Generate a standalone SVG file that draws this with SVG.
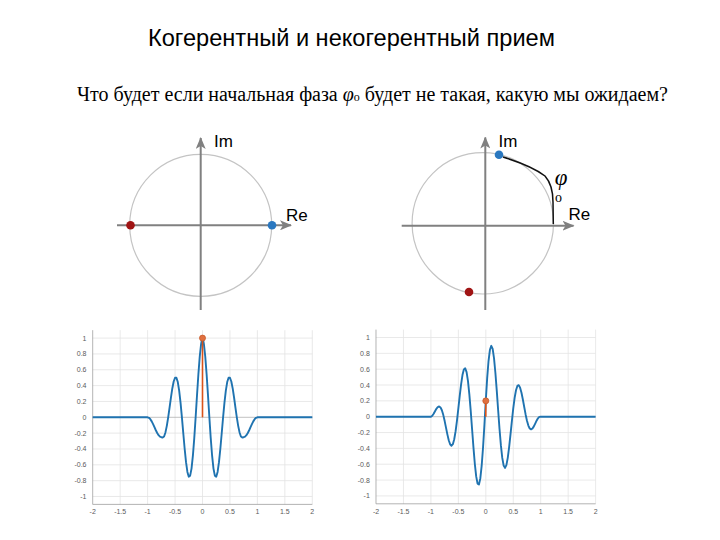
<svg xmlns="http://www.w3.org/2000/svg" xmlns:xlink="http://www.w3.org/1999/xlink" width="720" height="540" viewBox="0 0 720 540">
<style>
.title{font-family:"Liberation Sans",Arial,sans-serif;font-size:23.6px;fill:#000}
.sub{font-family:"Liberation Serif","Times New Roman",serif;font-size:20px;fill:#000}
.ax{stroke:#808080;stroke-width:2;fill:none}
.circ{stroke:#c4c4c4;stroke-width:1.2;fill:none}
.lbl{font-family:"Liberation Sans",Arial,sans-serif;font-size:17px;fill:#000}
.grid{stroke:#e3e3e3;stroke-width:0.8;fill:none}
.frame{stroke:#a0a0a0;stroke-width:0.8;fill:none}
.zero{stroke:#a8a8a8;stroke-width:0.7}
.tick{font-family:"Liberation Sans",Arial,sans-serif;font-size:7px;fill:#5a5a5a}
.wave{stroke:#1f73b0;stroke-width:1.9;fill:none;stroke-linejoin:round;vector-effect:non-scaling-stroke}
.stem{stroke:#d95319;stroke-width:1.6}
.mk{fill:#e07040;stroke:#c85a2a;stroke-width:0.8}
.red{fill:#a01414}
.blue{fill:#2a78c0}
</style>
<defs>
<marker id="arr" viewBox="0 0 12 10" refX="11" refY="5" markerWidth="12" markerHeight="10" markerUnits="userSpaceOnUse" orient="auto">
<path d="M0,0 L12,5 L0,10 L3,5 z" fill="#808080"/>
</marker>
<g id="axesFrame">
<path class="grid" d="M-82.35,-87.1V87.1M-54.9,-87.1V87.1M-27.45,-87.1V87.1M0,-87.1V87.1M27.45,-87.1V87.1M54.9,-87.1V87.1M82.35,-87.1V87.1M109.8,-87.1V87.1M-109.8,-79.2H109.8M-109.8,-63.36H109.8M-109.8,-47.52H109.8M-109.8,-31.68H109.8M-109.8,-15.84H109.8M-109.8,15.84H109.8M-109.8,31.68H109.8M-109.8,47.52H109.8M-109.8,63.36H109.8M-109.8,79.2H109.8"/>
<line class="zero" x1="-109.8" y1="0" x2="109.8" y2="0"/>
<path class="frame" d="M-109.8,-87.1V87.1H109.8"/>
<g class="tick" text-anchor="end">
<text x="-116" y="-76.7">1</text>
<text x="-116" y="-60.9">0.8</text>
<text x="-116" y="-45">0.6</text>
<text x="-116" y="-29.2">0.4</text>
<text x="-116" y="-13.3">0.2</text>
<text x="-116" y="2.5">0</text>
<text x="-116" y="18.3">-0.2</text>
<text x="-116" y="34.2">-0.4</text>
<text x="-116" y="50">-0.6</text>
<text x="-116" y="65.9">-0.8</text>
<text x="-116" y="81.7">-1</text>
</g>
<g class="tick" text-anchor="middle">
<text x="-109.8" y="97">-2</text>
<text x="-82.35" y="97">-1.5</text>
<text x="-54.9" y="97">-1</text>
<text x="-27.45" y="97">-0.5</text>
<text x="0" y="97">0</text>
<text x="27.45" y="97">0.5</text>
<text x="54.9" y="97">1</text>
<text x="82.35" y="97">1.5</text>
<text x="109.8" y="97">2</text>
</g>
</g>
</defs>
<rect width="720" height="540" fill="#fff"/>
<text class="title" x="148" y="46">Когерентный и некогерентный прием</text>
<text class="sub" x="77" y="101">Что будет если начальная фаза <tspan font-style="italic">φ</tspan><tspan font-size="12">o</tspan> будет не такая, какую мы ожидаем?</text>

<g id="phasor-left">
<circle class="circ" cx="200.7" cy="225.3" r="71"/>
<line class="ax" x1="117" y1="225.3" x2="291" y2="225.3" marker-end="url(#arr)"/>
<line class="ax" x1="200.7" y1="310" x2="200.7" y2="138" marker-end="url(#arr)"/>
<text class="lbl" x="214" y="147">Im</text>
<text class="lbl" x="286" y="221">Re</text>
<circle class="red" cx="130.5" cy="225.3" r="4.3"/>
<circle class="blue" cx="272" cy="225.3" r="4.3"/>
</g>

<g id="phasor-right">
<circle class="circ" cx="482.8" cy="223.3" r="70.7"/>
<line class="ax" x1="401.7" y1="225.7" x2="573.5" y2="225.7" marker-end="url(#arr)"/>
<line class="ax" x1="485.3" y1="310" x2="485.3" y2="137.5" marker-end="url(#arr)"/>
<text class="lbl" x="498.5" y="147">Im</text>
<text class="lbl" x="568.5" y="220">Re</text>
<path d="M503,157 Q532,166 545,176 Q553,185 553,202 L553.3,224" stroke="#111" stroke-width="1.5" fill="none"/>
<text x="561" y="185" font-family="Liberation Serif,Times New Roman,serif" font-style="italic" font-size="23" text-anchor="middle">φ</text>
<text x="558.5" y="202" font-family="Liberation Serif,Times New Roman,serif" font-size="14" text-anchor="middle">o</text>
<circle class="blue" cx="499" cy="154.7" r="4.3"/>
<circle class="red" cx="469" cy="292" r="4.3"/>
</g>

<g id="plot-left" transform="translate(202.5,417.3)">
<use xlink:href="#axesFrame" href="#axesFrame"/>
<path class="wave" transform="scale(54.9,-79.2)" d="M-2,0 L-1,0 -0.975,-0.0061 -0.95,-0.0239 -0.925,-0.0515 -0.9,-0.0864 -0.875,-0.125 -0.85,-0.1636 -0.825,-0.1985 -0.8,-0.2261 -0.775,-0.2439 -0.75,-0.252 -0.725,-0.255 -0.7,-0.2427 -0.675,-0.191 -0.65,-0.1082 -0.625,0 -0.6,0.1236 -0.575,0.2498 -0.55,0.3641 -0.525,0.4518 -0.5,0.5 -0.475,0.4993 -0.45,0.445 -0.425,0.338 -0.4,0.1854 -0.375,0 -0.35,-0.2009 -0.325,-0.3968 -0.3,-0.5663 -0.275,-0.6895 -0.25,-0.75 -0.225,-0.7371 -0.2,-0.6472 -0.175,-0.4849 -0.15,-0.2627 -0.125,0 -0.1,0.2781 -0.075,0.5437 -0.05,0.7686 -0.025,0.9273 -0.0125,0.9754 0,1 0.0125,0.9754 0.025,0.9273 0.05,0.7686 0.075,0.5437 0.1,0.2781 0.125,0 0.15,-0.2627 0.175,-0.4849 0.2,-0.6472 0.225,-0.7371 0.25,-0.75 0.275,-0.6895 0.3,-0.5663 0.325,-0.3968 0.35,-0.2009 0.375,0 0.4,0.1854 0.425,0.338 0.45,0.445 0.475,0.4993 0.5,0.5 0.525,0.4518 0.55,0.3641 0.575,0.2498 0.6,0.1236 0.625,0 0.65,-0.1082 0.675,-0.191 0.7,-0.2427 0.725,-0.255 0.75,-0.252 0.775,-0.2439 0.8,-0.2261 0.825,-0.1985 0.85,-0.1636 0.875,-0.125 0.9,-0.0864 0.925,-0.0515 0.95,-0.0239 0.975,-0.0061 1,0 2,0"/>
<line class="stem" x1="0" y1="0" x2="0" y2="-79.2"/>
<circle class="mk" cx="0" cy="-79.2" r="3"/>
</g>

<g id="plot-right" transform="translate(485.8,416.7)">
<use xlink:href="#axesFrame" href="#axesFrame"/>
<path class="wave" transform="scale(54.9,-79.2)" d="M-2,0 L-1,0 -0.975,0.0125 -0.95,0.0372 -0.925,0.0685 -0.9,0.0995 -0.875,0.1223 -0.85,0.1299 -0.825,0.1171 -0.8,0.0813 -0.775,0.0235 -0.75,-0.052 -0.725,-0.1375 -0.7,-0.2229 -0.675,-0.2969 -0.65,-0.3481 -0.625,-0.3668 -0.6,-0.3464 -0.575,-0.2844 -0.55,-0.183 -0.525,-0.0496 -0.5,0.104 -0.475,0.2625 -0.45,0.4087 -0.425,0.5253 -0.4,0.5967 -0.375,0.6113 -0.35,0.5629 -0.325,0.4516 -0.3,0.2847 -0.275,0.0758 -0.25,-0.1559 -0.225,-0.3875 -0.2,-0.5945 -0.175,-0.7536 -0.15,-0.8453 -0.125,-0.8558 -0.1,-0.7794 -0.075,-0.6189 -0.05,-0.3864 -0.025,-0.1019 0,0.2079 0.025,0.4875 0.05,0.7059 0.075,0.845 0.1,0.8951 0.125,0.8558 0.15,0.7361 0.175,0.552 0.2,0.3254 0.225,0.081 0.25,-0.1559 0.275,-0.3625 0.3,-0.5202 0.325,-0.6166 0.35,-0.6464 0.375,-0.6113 0.4,-0.5196 0.425,-0.3847 0.45,-0.2237 0.475,-0.0549 0.5,0.104 0.525,0.2375 0.55,0.3344 0.575,0.3882 0.6,0.3978 0.625,0.3668 0.65,0.3031 0.675,0.2175 0.7,0.122 0.725,0.0287 0.75,-0.052 0.775,-0.1125 0.8,-0.1486 0.825,-0.1599 0.85,-0.1492 0.875,-0.1223 0.9,-0.0866 0.925,-0.0502 0.95,-0.0203 0.975,-0.0026 1,0 2,0"/>
<line class="stem" x1="0" y1="0" x2="0" y2="-15.84"/>
<circle class="mk" cx="0" cy="-15.84" r="3"/>
</g>
</svg>
